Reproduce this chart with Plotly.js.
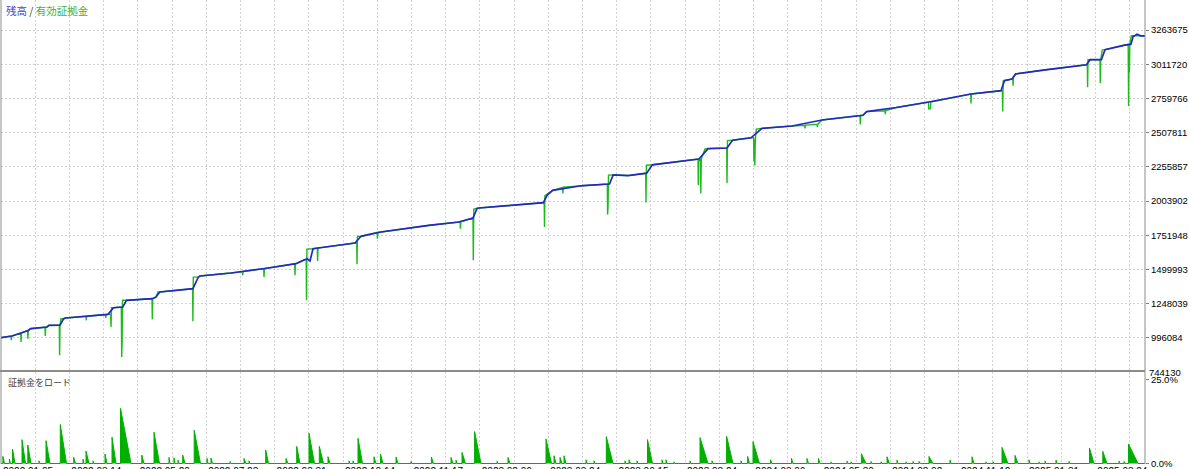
<!DOCTYPE html>
<html>
<head>
<meta charset="utf-8">
<script src="https://cdn.plot.ly/plotly-3.0.1.min.js"></script>
<style>
html,body{margin:0;padding:0;background:#fff;}
#chart{width:1189px;height:469px;}
</style>
</head>
<body>
<div id="chart"></div>
<script>
// ---- data (time axis position t along the tester timeline) ----
const dateLabels = ['2022.01.05','2022.03.14','2022.05.20','2022.07.28','2022.08.31','2022.10.14','2022.11.17','2023.02.06','2023.03.24','2023.06.15','2023.08.24','2024.03.06','2024.05.30','2024.08.02','2024.11.12','2025.01.31','2025.03.24'];

const yTickVals = [996084,1248039,1499993,1751948,2003902,2255857,2507811,2759766,3011720,3263675];
const yBottomLabel = 744130;

// Balance (残高)
const balT = [0,11,20,27.7,29.5,46,48,59,62.7,64.7,107,112.5,121.8,125.5,151.3,155,158.7,191.9,197.4,199,230,264,295,306,309,312,317,354,360,380,428,457.6,472,476,478,542.4,546,551.7,578.6,582,608.5,612.2,627,645.7,651.3,698,707,726,731.5,750,761,791,821,862,865.6,895.4,925,970,1000,1003.5,1011,1014.7,1044.5,1085.5,1089,1100.4,1104,1122.8,1130,1132,1136,1139.6,1144];
const balV = [997600,1010100,1032200,1052100,1063900,1076400,1088900,1090000,1137500,1142700,1169900,1218600,1223700,1273100,1284900,1297400,1334200,1358500,1444700,1452100,1474000,1507400,1542700,1579600,1562600,1653200,1658400,1695200,1744600,1776300,1825600,1849900,1879400,1949400,1953000,1992100,2046600,2083500,2115100,2117400,2129900,2196900,2192000,2209400,2271300,2314100,2390700,2395100,2452600,2470200,2539500,2557200,2601400,2636000,2663300,2693500,2730300,2792900,2817200,2891600,2903400,2941000,2971200,3008000,3045600,3045600,3120000,3151700,3159800,3214300,3234200,3221700,3221700];

// Equity (有効証拠金)
const eqT = [0,10,10.3,10.7,11,19.7,20,20.4,26.6,26.9,27.3,27.7,29.5,44,44.3,44.7,46,48,58.3,58.6,59,60,62.7,64.7,85,85.3,85.7,104.4,104.7,105.1,107,109.6,110,110.5,112.5,120.3,120.7,121.1,121.5,125.5,151,151.3,151.7,155,157,158.7,191.6,191.9,192.3,197.4,199,230,241.4,241.7,242.1,262.7,263,263.4,264,293.7,294,294.4,295,305.2,305.5,305.9,312,316.3,316.6,317,354,355.7,356,356.4,360,376.1,376.4,376.8,380,428,459.1,459.4,459.8,472,472.3,472.8,478,542.4,543.2,543.5,543.9,551.7,561.6,561.9,562.3,578.6,582,606.3,606.6,607,607.5,612.2,627,644.7,645,645.4,651.3,697,697.3,697.7,699.5,699.8,700.3,704,707,725.7,726,726.5,731.5,750,752.6,752.9,753.3,753.8,754.3,755.3,761,791,803.7,804,804.4,816.1,816.4,816.8,821,859,859.3,859.7,862,865.6,884,884.3,884.7,895.4,925,927.5,927.8,929.5,929.8,969.7,970,970.4,1000,1001.4,1001.7,1002.2,1003.5,1011,1011.8,1012.1,1012.5,1014.7,1044.5,1085.5,1086.3,1086.6,1087,1099,1099.3,1099.7,1101.3,1104,1122.8,1127.2,1127.6,1128,1128.4,1128.8,1130.3,1144];
const eqV = [997600,1009000,978400,1009500,1010100,1031500,965900,1032200,1050000,990200,1051000,1052100,1063900,1075000,1010100,1076000,1076400,1088900,1089500,867900,1090000,1137000,1137500,1142700,1155000,1125700,1155500,1168000,1142700,1168500,1169900,1170000,1076400,1218000,1218600,1223000,855400,960000,1273000,1273100,1284800,1133100,1285000,1297400,1334000,1334200,1358400,1118400,1444000,1444700,1452100,1474000,1484000,1457300,1484500,1506000,1444000,1506500,1507400,1541000,1457300,1541500,1542700,1578000,1273100,1650000,1653200,1658300,1562600,1658400,1695200,1697000,1538300,1744000,1744600,1773000,1726900,1773500,1776300,1825600,1850000,1800600,1851000,1879400,1567800,1945000,1953000,1992100,1993000,1813100,2045000,2083500,2105500,2060600,2106000,2115100,2117400,2129000,1904400,1960000,2195000,2196900,2192000,2209000,1993600,2268000,2271300,2313500,2120000,2300000,2314000,2060600,2314000,2388000,2390700,2395000,2137200,2450000,2452600,2470200,2470500,2300000,2460000,2266200,2450000,2535000,2539500,2557200,2563000,2540000,2563500,2570000,2548000,2570500,2601400,2634000,2569000,2635000,2636000,2663300,2670000,2643400,2670500,2693500,2730300,2733000,2682400,2685000,2734000,2792500,2722900,2793000,2817200,2817000,2663300,2890000,2891600,2903400,2903500,2854100,2920000,2941000,2971200,3008000,3008000,2842300,3045000,3045600,2874000,3045600,3118000,3120000,3151700,3159000,2705200,3100000,2953600,3160000,3221700,3221700];

// Margin load (証拠金をロード), % : start time, peak %, time when back to zero
const loadT   = [1.9,8.4,11.5,21,26.8,38,45,59.3,72.7,82,85,92,104,111,119.5,140.8,153,168,173,177,181.7,193.2,206,210,229,243,248,264.7,285,295.7,308,318.3,327,348,352,357,373,379.5,395,410,430.4,450,455,461,473.6,496,507,545,553,559,563,585,593,605.3,624,628,636,646.5,661,665,673,689,699,711,725.6,740,746.6,752,769.5,790.5,806,817.5,830,846,850,860.4,870,880,886,896,905,912,918,928,949,971,985,992,1001,1014,1028,1038,1044,1055,1068,1088.5,1101.8,1118,1123,1127.5];
const loadPct = [2.1,1.3,4.3,7.1,5.5,0.8,6.8,11.6,1.8,1.3,3.7,0.8,2.8,7.8,16.4,2.5,9.3,1.8,1.7,1.0,2.5,9.9,1.5,1.6,0.6,1.5,0.8,4.0,1.5,5.1,9.0,5.1,2.0,0.8,0.8,7.5,2.0,2.8,1.9,0.6,1.9,1.8,1.0,3.3,9.5,0.6,1.8,7.3,2.3,1.8,2.3,1.1,0.8,8.0,0.8,1.1,0.8,7.1,1.1,1.1,0.5,0.7,7.7,0.8,8.1,0.8,2.1,6.5,1.1,1.5,1.5,1.5,0.5,0.7,0.5,2.9,0.6,0.5,2.0,1.0,0.5,0.6,0.6,2.1,1.0,2.0,0.5,0.5,4.8,2.4,1.1,0.5,0.7,1.0,0.6,4.6,3.6,0.7,0.6,5.8];
const loadEnd = [3.5,9.5,14,24.5,30,39,49,65.5,74.5,83,88,93,106,115,130,143,158.5,169,174,178,184,199.5,207,211.5,230,245,249,267.5,287,299,313.5,322.5,329,349,353,361.5,375,382,397,411,432.5,452,456,464.5,480,497,509,550.5,555,561,565,586,594,612,625,629.5,637,651.5,662,666,674,690,707,712,732,741,748.5,758.5,771,792,807.5,819,831,847,851,865,871,881,888.5,897,906,913,919.5,932,950,973,986,993,1007,1017,1029,1039,1045,1056,1069,1093,1106,1119,1124,1137];

// ---- build ----
const gridStep = 34.2;
const tickVals = [], tickText = [];
for (let k = 0; k <= 33; k++) {
  tickVals.push(k * gridStep);
  tickText.push(k % 2 === 0 ? dateLabels[k / 2] : '');
}
const loadX = [], loadY = [];
for (let i = 0; i < loadT.length; i++) {
  loadX.push(loadT[i], loadT[i], loadEnd[i]);
  loadY.push(0, loadPct[i], 0);
}
loadX.unshift(0); loadY.unshift(0);
loadX.push(1144); loadY.push(0);

const H = 464;
const mainDom = [(H - 370) / H, 1];
const botDom = [0, (H - 372) / H];
const yMin = 759600, yMax = 3485400;

const gridColor = '#d2d2d2';
const tickFont = {family: 'Liberation Sans, Arial, sans-serif', size: 9.5, color: '#000'};

const traces = [
  {x: eqT, y: eqV, type: 'scatter', mode: 'lines', xaxis: 'x', yaxis: 'y',
   line: {color: '#1cbb1c', width: 1.4, simplify: false}, hoverinfo: 'skip'},
  {x: balT, y: balV, type: 'scatter', mode: 'lines', xaxis: 'x', yaxis: 'y',
   line: {color: '#2626c4', width: 1.7, simplify: false}, hoverinfo: 'skip'},
  {x: loadX, y: loadY, type: 'scatter', mode: 'lines', xaxis: 'x2', yaxis: 'y2',
   fill: 'tozeroy', fillcolor: '#00b000', line: {color: '#00b000', width: 1, simplify: false}, hoverinfo: 'skip'}
];

// paper position of the bottom value label (just below the main panel's range)
const mainPxPerVal = 370 / (yMax - yMin);
const lowLabelPx = 370 + (yMin - yBottomLabel) * mainPxPerVal;

const layout = {
  width: 1189, height: 469,
  margin: {l: 1, r: 44, t: 0, b: 5},
  paper_bgcolor: '#fff', plot_bgcolor: '#fff',
  showlegend: false,
  font: {family: 'Liberation Sans, Arial, sans-serif', size: 10, color: '#000'},
  xaxis: {anchor: 'y', matches: 'x2', range: [0, 1144], tickmode: 'array', tickvals: tickVals, ticktext: tickText,
          showticklabels: false, showgrid: true, gridcolor: gridColor, griddash: '2px,2px', gridwidth: 1,
          zeroline: false, showline: false, ticks: ''},
  xaxis2: {anchor: 'y2', range: [0, 1144], tickmode: 'array', tickvals: tickVals, ticktext: tickText,
           showticklabels: true, ticklabelshift: 27, ticklabelstandoff: 0,
           tickfont: {family: 'Liberation Sans, Arial, sans-serif', size: 10, color: '#000'},
           showgrid: true, gridcolor: gridColor, griddash: '2px,2px', gridwidth: 1,
           zeroline: false, showline: false, ticks: ''},
  yaxis: {domain: mainDom, anchor: 'x', side: 'right', range: [yMin, yMax],
          tickmode: 'array', tickvals: yTickVals, ticktext: yTickVals.map(String),
          ticks: 'outside', ticklen: 3, tickcolor: '#808080', tickfont: tickFont,
          showgrid: true, gridcolor: gridColor, griddash: '2px,2px', gridwidth: 1,
          zeroline: false, showline: false},
  yaxis2: {domain: botDom, anchor: 'x2', side: 'right', range: [-0.15, 27.23],
           tickmode: 'array', tickvals: [0, 25], ticktext: ['0.0%', '25.0%'],
           ticks: 'outside', ticklen: 3, tickcolor: '#808080', tickfont: tickFont,
           showgrid: false, zeroline: false, showline: false},
  shapes: [
    {type: 'line', xref: 'paper', yref: 'paper', x0: 1, x1: 1, y0: 0, y1: 1, line: {color: '#8c8c8c', width: 1}},
    {type: 'line', xref: 'paper', yref: 'paper', x0: 0, x1: 0, y0: 0, y1: 1, line: {color: '#8c8c8c', width: 1}},
    {type: 'line', xref: 'paper', yref: 'paper', x0: -0.002, x1: 1, y0: (H - 371) / H, y1: (H - 371) / H, line: {color: '#8c8c8c', width: 2}}
  ],
  annotations: [
    {xref: 'paper', yref: 'paper', x: 0.0026, y: 1 - 10 / H, xanchor: 'left', yanchor: 'middle', showarrow: false,
     text: '<span style="color:#4848c4">残高</span><span style="color:#404040"> / </span><span style="color:#3cb43c">有効証拠金</span>',
     font: {family: 'Noto Sans CJK JP, sans-serif', size: 10.5}},
    {xref: 'paper', yref: 'paper', x: 0.004, y: (H - 382) / H, xanchor: 'left', yanchor: 'middle', showarrow: false,
     text: '証拠金をロード', font: {family: 'Noto Sans CJK JP, sans-serif', size: 9, color: '#404040'}},
    {xref: 'paper', yref: 'paper', x: 1, y: (H - lowLabelPx) / H, xanchor: 'left', yanchor: 'middle', xshift: 2, showarrow: false,
     text: String(yBottomLabel), font: tickFont}
  ]
};

Plotly.newPlot('chart', traces, layout, {staticPlot: true, displayModeBar: false});
</script>
</body>
</html>
